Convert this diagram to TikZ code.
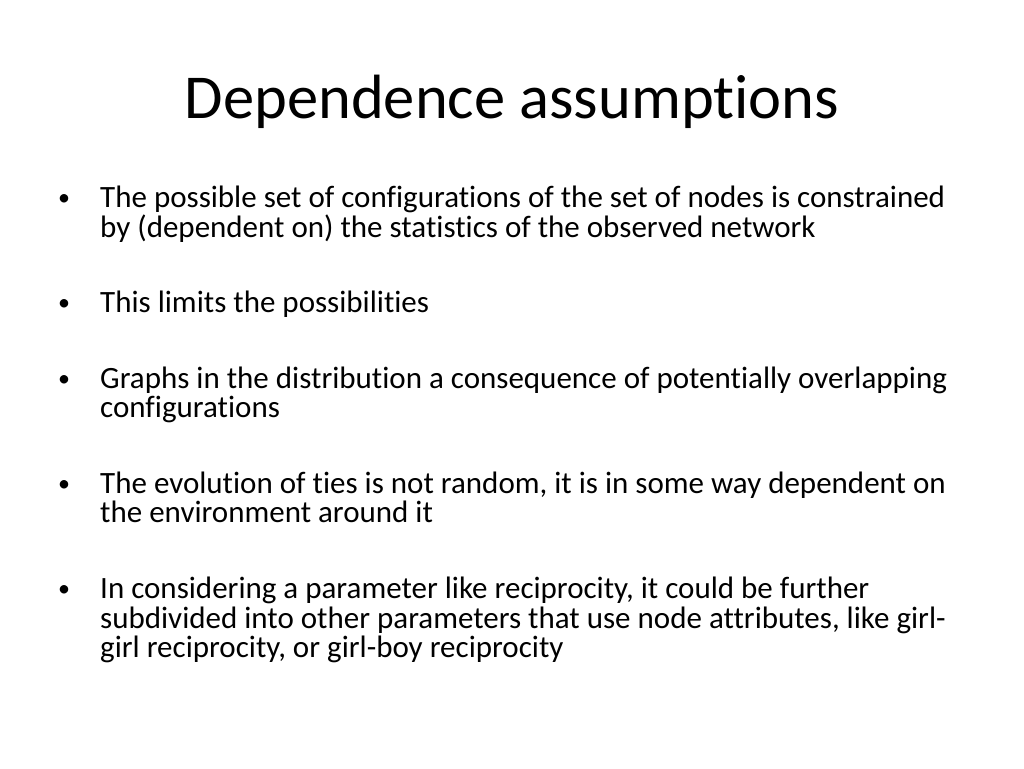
\documentclass[tikz,border=0pt]{standalone}
\usepackage{fontspec}
\setmainfont[Ligatures=NoCommon,Contextuals=NoAlternate]{Carlito}
\begin{document}
\begin{tikzpicture}[x=1pt,y=-1pt,
  ln/.style={anchor=base west,inner sep=0pt,font=\fontsize{31}{36}\selectfont},
  bul/.style={anchor=base west,inner sep=0pt,font=\fontsize{24}{30}\selectfont}]
\useasboundingbox[fill=white] (0,0) rectangle (1024,768);
\node[anchor=base,inner sep=0pt,font=\fontsize{62.5}{72}\selectfont] (title) at (512,118) {Dependence assumptions};
\node[bul] (b1) at (58,205) {•};
\node[ln] (l1a) at (100,207) {The possible set of configurations of the set of nodes is constrained};
\node[ln] (l1b) at (100,237) {by (dependent on) the statistics of the observed network};
\node[bul] (b2) at (58,310) {•};
\node[ln] (l2a) at (100,312) {This limits the possibilities};
\node[bul] (b3) at (58,386) {•};
\node[ln] (l3a) at (100,388) {Graphs in the distribution a consequence of potentially overlapping};
\node[ln] (l3b) at (100,417) {configurations};
\node[bul] (b4) at (58,491) {•};
\node[ln] (l4a) at (100,493) {The evolution of ties is not random, it is in some way dependent on};
\node[ln] (l4b) at (100,522) {the environment around it};
\node[bul] (b5) at (58,596) {•};
\node[ln] (l5a) at (100,598) {In considering a parameter like reciprocity, it could be further};
\node[ln] (l5b) at (100,628) {subdivided into other parameters that use node attributes, like girl-};
\node[ln] (l5c) at (100,657) {girl reciprocity, or girl-boy reciprocity};
\end{tikzpicture}
\end{document}
